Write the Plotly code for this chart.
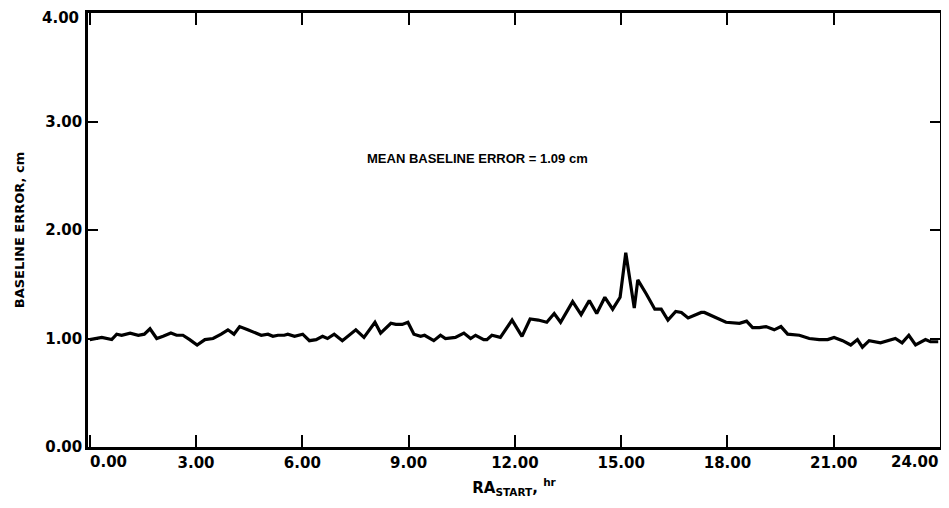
import plotly.graph_objects as go

ra_start_hr = [0.00, 0.34, 0.62, 0.76, 0.90, 1.14, 1.37, 1.54, 1.70, 1.89, 2.07, 2.29, 2.45, 2.63, 2.82,
               3.03, 3.25, 3.48, 3.71, 3.90, 4.07, 4.23, 4.46, 4.70, 4.84, 5.03, 5.17, 5.31, 5.49, 5.59,
               5.78, 6.01, 6.20, 6.39, 6.57, 6.71, 6.90, 7.13, 7.32, 7.51, 7.74, 8.05, 8.21, 8.50, 8.64,
               8.82, 8.98, 9.15, 9.34, 9.45, 9.71, 9.90, 10.04, 10.32, 10.56, 10.75, 10.89, 11.12, 11.21,
               11.35, 11.59, 11.92, 12.20, 12.43, 12.66, 12.90, 13.11, 13.29, 13.63, 13.87, 14.10, 14.31,
               14.54, 14.76, 14.97, 15.13, 15.37, 15.47, 15.71, 15.95, 16.13, 16.32, 16.54, 16.70, 16.89,
               17.26, 17.35, 17.68, 17.96, 18.34, 18.54, 18.71, 18.90, 19.09, 19.32, 19.51, 19.70, 20.03,
               20.31, 20.59, 20.83, 21.01, 21.25, 21.48, 21.67, 21.81, 22.00, 22.32, 22.56, 22.74, 22.93,
               23.12, 23.31, 23.59, 23.73, 23.95]
baseline_error_cm = [0.99, 1.01, 0.99, 1.04, 1.03, 1.05, 1.03, 1.04, 1.09, 1.00, 1.02, 1.05, 1.03, 1.03, 0.99,
                     0.94, 0.99, 1.00, 1.04, 1.08, 1.04, 1.11, 1.08, 1.05, 1.03, 1.04, 1.02, 1.03, 1.03, 1.04,
                     1.02, 1.04, 0.98, 0.99, 1.02, 1.00, 1.04, 0.98, 1.03, 1.08, 1.01, 1.15, 1.05, 1.14, 1.13,
                     1.13, 1.15, 1.04, 1.02, 1.03, 0.98, 1.03, 1.00, 1.01, 1.05, 1.00, 1.03, 0.99, 0.99,
                     1.03, 1.01, 1.17, 1.02, 1.18, 1.17, 1.15, 1.23, 1.15, 1.34, 1.22, 1.35, 1.23,
                     1.38, 1.27, 1.38, 1.79, 1.28, 1.54, 1.41, 1.27, 1.27, 1.17, 1.25, 1.24, 1.19,
                     1.24, 1.24, 1.19, 1.15, 1.14, 1.16, 1.10, 1.10, 1.11, 1.08, 1.11, 1.04, 1.03,
                     1.00, 0.99, 0.99, 1.01, 0.98, 0.94, 0.99, 0.92, 0.98, 0.96, 0.98, 1.00, 0.96,
                     1.03, 0.94, 0.99, 0.97, 0.97]

x_tick_vals = [0, 3, 6, 9, 12, 15, 18, 21, 24]
x_tick_text = ["0.00", "3.00", "6.00", "9.00", "12.00", "15.00", "18.00", "21.00", "24.00"]
y_tick_vals = [0, 1, 2, 3, 4]
y_tick_text = ["0.00", "1.00", "2.00", "3.00", "4.00"]

font_family = "DejaVu Sans"
tick_font = dict(family=font_family, size=15, color="black", weight="bold")

fig = go.Figure()
fig.add_trace(go.Scatter(x=ra_start_hr, y=baseline_error_cm, mode="lines",
                         line=dict(color="black", width=3.2), showlegend=False))

# first/last x tick labels and top y label drawn as annotations so they stay inside the page
x_inner_text = [t if v not in (0, 24) else "" for v, t in zip(x_tick_vals, x_tick_text)]
y_inner_text = [t if v != 4 else "" for v, t in zip(y_tick_vals, y_tick_text)]

fig.update_xaxes(range=[-0.05, 24.0], tickvals=x_tick_vals, ticktext=x_inner_text,
                 ticks="inside", ticklen=12, tickwidth=2, tickcolor="black",
                 showline=True, linecolor="black", linewidth=2.5, mirror="ticks",
                 showgrid=False, zeroline=False, automargin=False,
                 tickfont=tick_font,
                 title=dict(text="RA<sub>START</sub>, <sup>hr</sup>",
                            font=dict(family=font_family, size=15, color="black", weight="bold"),
                            standoff=12))
fig.update_yaxes(range=[0, 4.0], tickvals=y_tick_vals, ticktext=y_inner_text,
                 ticks="inside", ticklen=10, tickwidth=2, tickcolor="black",
                 showline=True, linecolor="black", linewidth=2.5, mirror="ticks",
                 showgrid=False, zeroline=False, automargin=False,
                 tickfont=tick_font,
                 title=dict(text="BASELINE ERROR, cm",
                            font=dict(family=font_family, size=13, color="black", weight="bold"),
                            standoff=18))

for v, t, anchor in [(x_tick_vals[0], x_tick_text[0], "left"), (x_tick_vals[-1], x_tick_text[-1], "right")]:
    fig.add_annotation(x=v if v != 0 else -0.05, y=0, xref="x", yref="y", text=t, showarrow=False,
                       xanchor=anchor, yanchor="top", yshift=-4, font=tick_font)

fig.add_annotation(x=0, y=y_tick_vals[-1], xref="paper", yref="y", text=y_tick_text[-1], showarrow=False,
                   xanchor="right", yanchor="top", xshift=-7, yshift=6, font=tick_font)

fig.add_annotation(x=10.95, y=2.66, xref="x", yref="y", text="MEAN BASELINE ERROR = 1.09 cm",
                   showarrow=False, font=dict(family="Liberation Sans", size=13, color="black", weight="bold"))

# page body has an 8px margin, so the figure is 941x500 and margins are shifted accordingly
fig.update_layout(width=941, height=500, margin=dict(l=80, r=9, t=5, b=61),
                  plot_bgcolor="white", paper_bgcolor="white")

fig.write_html("out.html")
